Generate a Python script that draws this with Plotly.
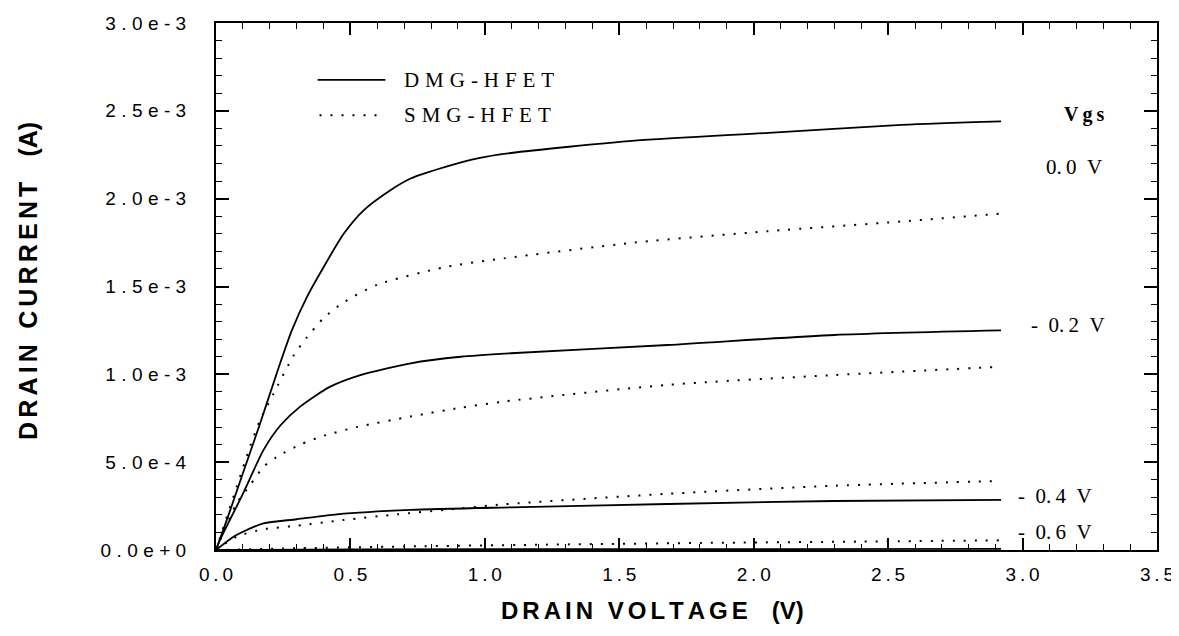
import numpy as np
import plotly.graph_objects as go

# drain voltage (V) / drain current (mA)
v_dmg_00 = [0, 0.04, 0.10, 0.164, 0.226, 0.282, 0.338, 0.40, 0.475, 0.55, 0.65, 0.724, 0.85, 0.973, 1.097, 1.557, 2.055, 2.55, 2.92]
i_dmg_00 = [0, 0.17, 0.437, 0.72, 1.006, 1.25, 1.44, 1.61, 1.80, 1.935, 2.05, 2.115, 2.18, 2.23, 2.26, 2.33, 2.375, 2.42, 2.44]
v_smg_00 = [0, 0.077, 0.127, 0.164, 0.214, 0.29, 0.338, 0.40, 0.475, 0.60, 0.85, 1.07, 1.557, 2.055, 2.55, 2.92]
i_smg_00 = [0, 0.36, 0.59, 0.74, 0.89, 1.11, 1.21, 1.32, 1.41, 1.51, 1.61, 1.66, 1.75, 1.815, 1.87, 1.915]

v_dmg_02 = [0, 0.015, 0.10, 0.177, 0.24, 0.313, 0.425, 0.537, 0.724, 0.91, 1.097, 1.68, 2.30, 2.92]
i_dmg_02 = [0, 0.057, 0.32, 0.57, 0.71, 0.816, 0.93, 0.996, 1.063, 1.10, 1.12, 1.167, 1.224, 1.25]
v_smg_02 = [0, 0.077, 0.127, 0.177, 0.226, 0.313, 0.40, 0.525, 0.724, 0.91, 1.07, 1.68, 2.30, 2.92]
i_smg_02 = [0, 0.266, 0.37, 0.474, 0.53, 0.60, 0.65, 0.70, 0.76, 0.81, 0.845, 0.94, 0.996, 1.043]

v_dmg_04 = [0, 0.065, 0.114, 0.177, 0.30, 0.45, 0.724, 1.097, 1.68, 2.30, 2.92]
i_dmg_04 = [0, 0.076, 0.114, 0.152, 0.175, 0.203, 0.228, 0.243, 0.262, 0.279, 0.285]
v_smg_04 = [0, 0.077, 0.177, 0.30, 0.475, 0.674, 0.85, 1.07, 1.68, 2.30, 2.92]
i_smg_04 = [0, 0.076, 0.118, 0.138, 0.171, 0.203, 0.228, 0.26, 0.32, 0.366, 0.393]

v_dmg_06 = [0, 0.5, 1.5, 2.92]
i_dmg_06 = [0, 0.003, 0.005, 0.006]
v_smg_06 = [0, 0.3, 0.7, 1.2, 1.8, 2.4, 2.92]
i_smg_06 = [0, 0.01, 0.02, 0.03, 0.04, 0.048, 0.055]

vgs_labels = ["0.0 V", "- 0.2 V", "- 0.4 V", "- 0.6 V"]
vgs_label_pos = [(3.19, 2.18), (3.17, 1.28), (3.12, 0.31), (3.12, 0.10)]

x_ticks = [0, 0.5, 1.0, 1.5, 2.0, 2.5, 3.0, 3.5]
y_ticks = [0, 0.5e-3, 1.0e-3, 1.5e-3, 2.0e-3, 2.5e-3, 3.0e-3]
y_tick_text = ["0.0e+0", "5.0e-4", "1.0e-3", "1.5e-3", "2.0e-3", "2.5e-3", "3.0e-3"]

SANS = "Liberation Sans, Arial, sans-serif"
SERIF = "Liberation Serif, Times New Roman, serif"
TS = "\u2009"   # thin space
HS = "\u200a"   # hair space


def spread(s, gap=TS):
    return gap.join(list(s))


fig = go.Figure()

curves = [
    (v_dmg_00, i_dmg_00, "solid"), (v_smg_00, i_smg_00, "dot"),
    (v_dmg_02, i_dmg_02, "solid"), (v_smg_02, i_smg_02, "dot"),
    (v_dmg_04, i_dmg_04, "solid"), (v_smg_04, i_smg_04, "dot"),
    (v_dmg_06, i_dmg_06, "solid"), (v_smg_06, i_smg_06, "dot"),
]
for v, i, style in curves:
    if style == "solid":
        ln = dict(color="black", width=1.8, shape="spline", smoothing=0.7)
    else:
        ln = dict(color="black", width=2, dash="2px,9px", shape="spline", smoothing=0.7)
    fig.add_trace(go.Scatter(x=v, y=np.array(i) * 1e-3, mode="lines", line=ln,
                             showlegend=False, hoverinfo="skip"))

# hand drawn legend, like the original
fig.add_shape(type="line", xref="paper", yref="paper", x0=0.108, x1=0.180, y0=0.892, y1=0.892,
              line=dict(color="black", width=1.8))
fig.add_shape(type="line", xref="paper", yref="paper", x0=0.110, x1=0.175, y0=0.825, y1=0.825,
              line=dict(color="black", width=2, dash="2px,9px"))
fig.add_annotation(xref="paper", yref="paper", x=0.198, y=0.892, xanchor="left", yanchor="middle",
                   text=spread("DMG-HFET", TS + HS), showarrow=False,
                   font=dict(family=SERIF, size=21, color="black"))
fig.add_annotation(xref="paper", yref="paper", x=0.198, y=0.825, xanchor="left", yanchor="middle",
                   text=spread("SMG-HFET", TS + HS), showarrow=False,
                   font=dict(family=SERIF, size=21, color="black"))

fig.add_annotation(x=3.23, y=2.48e-3, text="<b>" + spread("Vgs") + "</b>", showarrow=False,
                   font=dict(family=SERIF, size=20, color="black"))
for lab, (x, y) in zip(vgs_labels, vgs_label_pos):
    fig.add_annotation(x=x, y=y * 1e-3, text=lab.replace(" ", "\u2002").replace(".", "." + TS),
                       showarrow=False, font=dict(family=SERIF, size=21, color="black"))

# axis titles placed like in the scan
fig.add_annotation(xref="paper", yref="paper", x=0.464, y=-0.115, xanchor="center", yanchor="middle",
                   text="<b>" + spread("DRAIN VOLTAGE", HS + HS) + "\u2003(V)</b>", showarrow=False,
                   font=dict(family=SANS, size=24, color="black"))
fig.add_annotation(xref="paper", yref="paper", x=-0.2, y=0.51, xanchor="center", yanchor="middle",
                   textangle=-90, text="<b>" + spread("DRAIN CURRENT", HS + HS) + "\u2003(A)</b>",
                   showarrow=False, font=dict(family=SANS, size=25, color="black"))

axis_common = dict(
    showline=True, linecolor="black", linewidth=2, mirror="ticks",
    ticks="inside", tickcolor="black", tickwidth=1.5,
    showgrid=False, zeroline=False, automargin=False, ticklabeloverflow="allow",
    tickfont=dict(family=SANS, size=19, color="black"),
)

fig.update_xaxes(
    range=[0, 3.5], tickvals=x_ticks, ticktext=[spread(f"{t:.1f}", TS) for t in x_ticks],
    ticklen=12, ticklabelstandoff=6,
    minor=dict(ticks="inside", dtick=0.1, ticklen=6, tickcolor="black", tickwidth=1.2),
    **axis_common,
)
fig.update_yaxes(
    range=[0, 3.0e-3], tickvals=y_ticks, ticktext=[spread(t, TS + HS) for t in y_tick_text],
    ticklen=13, ticklabelstandoff=24,
    minor=dict(ticks="inside", dtick=1e-4, ticklen=6, tickcolor="black", tickwidth=1.2),
    **axis_common,
)

# the page adds an 8px body margin: the figure is sized so that it just fills the window
fig.update_layout(
    width=1171, height=628,
    margin=dict(l=208, r=22, t=15, b=86),
    paper_bgcolor="white", plot_bgcolor="white",
)

fig.write_html("out.html")
